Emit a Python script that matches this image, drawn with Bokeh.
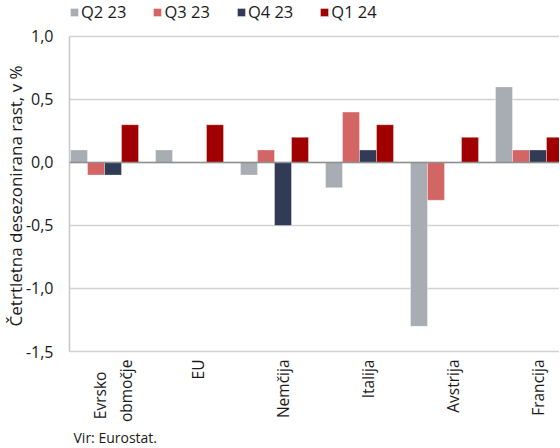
import numpy as np
from bokeh.plotting import figure
from bokeh.models import (ColumnDataSource, FixedTicker, Legend, LegendItem, Span, Title)
from bokeh.transform import dodge
from bokeh.embed import file_html
from bokeh.resources import INLINE

NB = "\u00a0"
categories = ["Evrsko" + NB * 3 + "\nobmočje", "EU", "Nemčija", "Italija", "Avstrija", "Francija"]
series_names = ["Q2 23", "Q3 23", "Q4 23", "Q1 24"]
q2_23 = [0.1, 0.1, -0.1, -0.2, -1.3, 0.6]
q3_23 = [-0.1, 0.0, 0.1, 0.4, -0.3, 0.1]
q4_23 = [-0.1, 0.0, -0.5, 0.1, 0.0, 0.1]
q1_24 = [0.3, 0.3, 0.2, 0.3, 0.2, 0.2]
y_ticks = [-1.5, -1.0, -0.5, 0.0, 0.5, 1.0]
y_tick_labels = ["-1,5", "-1,0", "-0,5", "0,0", "0,5", "1,0"]
y_title = "Četrtletna desezonirana rast, v %"
colors = ["#a7adb3", "#d46565", "#323b56", "#a00000"]

FONT = "Open Sans"
TXT = "#1a1a1a"
pos = list(range(len(categories)))
src = ColumnDataSource(dict(x=pos, q2=q2_23, q3=q3_23, q4=q4_23, q1=q1_24))

# extra headroom above 1,0 holds the legend inside the frame
p = figure(frame_width=490, frame_height=351, output_backend="svg", toolbar_location=None,
           x_range=(-0.512, 5.253), y_range=(-1.5, 1.2857),
           min_border_left=62, min_border_right=0, min_border_top=0, min_border_bottom=0)
p.outline_line_color = None

offsets = [-0.4, -0.2, 0.0, 0.2]
fields = ["q2", "q3", "q4", "q1"]
renderers = []
for f, off, c in zip(fields, offsets, colors):
    r = p.vbar(x=dodge("x", off), top=f, bottom=0, width=0.2, source=src,
               fill_color=c, line_color="white", line_alpha=0.35, line_width=1)
    renderers.append(r)

zero = Span(location=0, dimension="width", line_color="#8f8f8f", line_width=1.5)
p.add_layout(zero)

p.xgrid.grid_line_color = None
p.ygrid.grid_line_color = "#d2d2d2"
p.ygrid.grid_line_width = 1.5
p.yaxis.ticker = FixedTicker(ticks=y_ticks)
p.yaxis.bounds = (min(y_ticks), max(y_ticks))
p.yaxis.major_label_overrides = {t: l for t, l in zip(y_ticks, y_tick_labels)}
p.yaxis.axis_line_color = "#c8c8c8"
p.yaxis.axis_line_width = 1.5
p.yaxis.major_tick_line_color = None
p.yaxis.minor_tick_line_color = None
p.yaxis.major_label_text_font = FONT
p.yaxis.major_label_text_font_size = "16px"
p.yaxis.major_label_text_color = TXT
p.yaxis.major_label_standoff = 10
p.yaxis.axis_label = y_title + NB * 9
p.yaxis.axis_label_text_font = FONT
p.yaxis.axis_label_text_font_size = "17px"
p.yaxis.axis_label_text_font_style = "normal"
p.yaxis.axis_label_text_color = TXT
p.yaxis.axis_label_standoff = -4

p.xaxis.ticker = FixedTicker(ticks=pos)
p.xaxis.major_label_overrides = {i: c for i, c in zip(pos, categories)}
p.xaxis.major_label_orientation = np.pi / 2
p.xaxis.axis_line_color = "#d2d2d2"
p.xaxis.axis_line_width = 1.5
p.xaxis.major_tick_line_color = None
p.xaxis.minor_tick_line_color = None
p.xaxis.major_label_text_font = FONT
p.xaxis.major_label_text_font_size = "15.5px"
p.xaxis.major_label_text_color = TXT
p.xaxis.major_label_standoff = 2

legend = Legend(items=[LegendItem(label=n, renderers=[r]) for n, r in zip(series_names, renderers)],
                orientation="horizontal", location="top_left",
                label_text_font=FONT, label_text_font_size="16.5px",
                label_text_color=TXT, glyph_width=10, glyph_height=10,
                spacing=26, padding=0, margin=0, label_standoff=2,
                border_line_color=None, background_fill_alpha=0)
p.add_layout(legend, "center")

source_note = Title(text="Vir: Eurostat.", align="left", offset=4, standoff=0,
                    text_font=FONT, text_font_size="14px", text_font_style="normal",
                    text_color=TXT)
p.add_layout(source_note, "below")

open("out.html", "w").write(file_html(p, INLINE))
